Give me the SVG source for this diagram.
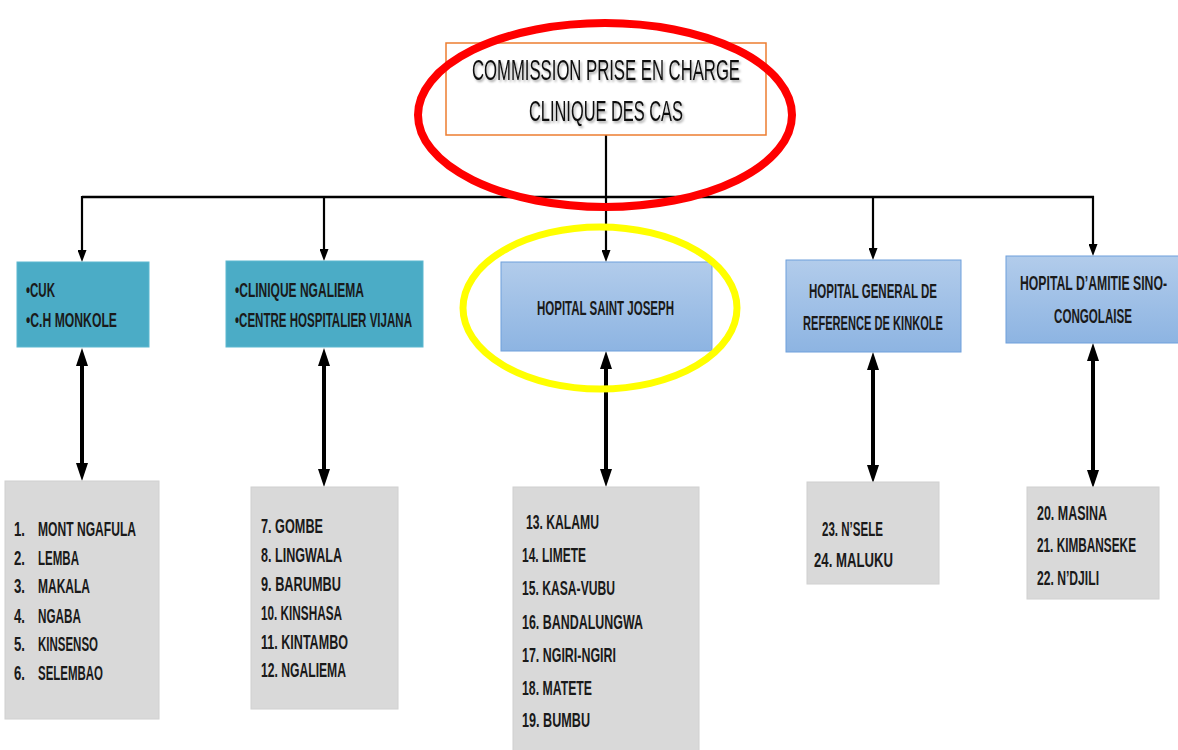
<svg xmlns="http://www.w3.org/2000/svg" width="1178" height="750" viewBox="0 0 1178 750">
<style>
.t{font-family:"Liberation Sans",Arial,sans-serif;font-weight:bold;fill:#1a1a1a;font-size:20px}
.top{font-family:"Liberation Sans",Arial,sans-serif;fill:#111;font-size:30px}
.thin{stroke:#000;stroke-width:2.2;fill:none}
.thick{stroke:#000;stroke-width:4;fill:none}
.teal{fill:#4BACC6;stroke:#5DB8D0;stroke-width:1}
.blue{fill:url(#bg);stroke:#6FA0DC;stroke-width:1}
.gray{fill:#D9D9D9;stroke:#D0D0D0;stroke-width:1}
</style>
<defs>
<linearGradient id="bg" x1="0" y1="0" x2="0" y2="1">
<stop offset="0" stop-color="#B2CCEB"/>
<stop offset="1" stop-color="#8DB4E2"/>
</linearGradient>
<filter id="sh" x="-5%" y="-20%" width="110%" height="150%">
<feDropShadow dx="1.5" dy="2" stdDeviation="1.2" flood-color="#000" flood-opacity="0.35"/>
</filter>
<marker id="ah" viewBox="0 0 12 9" refX="4" refY="4.5" markerWidth="12" markerHeight="9" markerUnits="userSpaceOnUse" orient="auto">
<path d="M0,0 L12,4.5 L0,9 z" fill="#000"/>
</marker>
<marker id="ahb" viewBox="0 0 18 12" refX="6" refY="6" markerWidth="18" markerHeight="12" markerUnits="userSpaceOnUse" orient="auto-start-reverse">
<path d="M0,0 L18,6 L0,12 z" fill="#000"/>
</marker>
</defs>
<rect width="1178" height="750" fill="#fff"/>

<g id="connectors">
<line class="thin" x1="606" y1="135" x2="606" y2="197"/>
<line x1="82" y1="197" x2="1094" y2="197" stroke="#000" stroke-width="2.6"/>
<line class="thin" x1="82" y1="196" x2="82" y2="254" marker-end="url(#ah)"/>
<line class="thin" x1="324" y1="196" x2="324" y2="253" marker-end="url(#ah)"/>
<line class="thin" x1="606" y1="196" x2="606" y2="254" marker-end="url(#ah)"/>
<line class="thin" x1="873" y1="196" x2="873" y2="252" marker-end="url(#ah)"/>
<line class="thin" x1="1093" y1="196" x2="1093" y2="248" marker-end="url(#ah)"/>
<line class="thick" x1="82" y1="360" x2="82" y2="469" marker-start="url(#ahb)" marker-end="url(#ahb)"/>
<line class="thick" x1="324" y1="360" x2="324" y2="475" marker-start="url(#ahb)" marker-end="url(#ahb)"/>
<line class="thick" x1="606" y1="363" x2="606" y2="475" marker-start="url(#ahb)" marker-end="url(#ahb)"/>
<line class="thick" x1="873" y1="364" x2="873" y2="471" marker-start="url(#ahb)" marker-end="url(#ahb)"/>
<line class="thick" x1="1093" y1="355" x2="1093" y2="476" marker-start="url(#ahb)" marker-end="url(#ahb)"/>
</g>

<g id="commission">
<rect x="446" y="43" width="320" height="92" fill="#fff" stroke="#ED7D31" stroke-width="1.5"/>
<g filter="url(#sh)">
<text class="top" x="472" y="80" textLength="268" lengthAdjust="spacingAndGlyphs">COMMISSION PRISE EN CHARGE</text>
<text class="top" x="529" y="121" textLength="154" lengthAdjust="spacingAndGlyphs">CLINIQUE DES CAS</text>
</g>
</g>

<g id="cuk">
<rect class="teal" x="17" y="262" width="132" height="85"/>
<text class="t" x="26" y="297" textLength="29" lengthAdjust="spacingAndGlyphs">•CUK</text>
<text class="t" x="26" y="327" textLength="91" lengthAdjust="spacingAndGlyphs">•C.H MONKOLE</text>
</g>

<g id="ngaliema">
<rect class="teal" x="226" y="261" width="197" height="86"/>
<text class="t" x="235" y="297" textLength="129" lengthAdjust="spacingAndGlyphs">•CLINIQUE NGALIEMA</text>
<text class="t" x="235" y="327" textLength="177" lengthAdjust="spacingAndGlyphs">•CENTRE HOSPITALIER VIJANA</text>
</g>

<g id="saint-joseph">
<rect class="blue" x="501" y="262" width="211" height="89"/>
<text class="t" x="537" y="315" textLength="137" lengthAdjust="spacingAndGlyphs">HOPITAL SAINT JOSEPH</text>
</g>

<g id="kinkole">
<rect class="blue" x="786" y="260" width="175" height="92"/>
<text class="t" x="809" y="298" textLength="128" lengthAdjust="spacingAndGlyphs">HOPITAL GENERAL DE</text>
<text class="t" x="803" y="330" textLength="140" lengthAdjust="spacingAndGlyphs">REFERENCE DE KINKOLE</text>
</g>

<g id="sino">
<rect class="blue" x="1006" y="256" width="174" height="87"/>
<text class="t" x="1020" y="290" textLength="147" lengthAdjust="spacingAndGlyphs">HOPITAL D’AMITIE SINO-</text>
<text class="t" x="1054" y="323" textLength="78" lengthAdjust="spacingAndGlyphs">CONGOLAISE</text>
</g>

<g id="list1">
<rect class="gray" x="5" y="481" width="154" height="238"/>
<text class="t" x="14" y="536" textLength="11" lengthAdjust="spacingAndGlyphs">1.</text>
<text class="t" x="38" y="536" textLength="98" lengthAdjust="spacingAndGlyphs">MONT NGAFULA</text>
<text class="t" x="14" y="565" textLength="11" lengthAdjust="spacingAndGlyphs">2.</text>
<text class="t" x="38" y="565" textLength="41" lengthAdjust="spacingAndGlyphs">LEMBA</text>
<text class="t" x="14" y="593" textLength="11" lengthAdjust="spacingAndGlyphs">3.</text>
<text class="t" x="38" y="593" textLength="52" lengthAdjust="spacingAndGlyphs">MAKALA</text>
<text class="t" x="14" y="623" textLength="11" lengthAdjust="spacingAndGlyphs">4.</text>
<text class="t" x="38" y="623" textLength="43" lengthAdjust="spacingAndGlyphs">NGABA</text>
<text class="t" x="14" y="651" textLength="11" lengthAdjust="spacingAndGlyphs">5.</text>
<text class="t" x="38" y="651" textLength="60" lengthAdjust="spacingAndGlyphs">KINSENSO</text>
<text class="t" x="14" y="680" textLength="11" lengthAdjust="spacingAndGlyphs">6.</text>
<text class="t" x="38" y="680" textLength="65" lengthAdjust="spacingAndGlyphs">SELEMBAO</text>
</g>

<g id="list2">
<rect class="gray" x="251" y="487" width="147" height="222"/>
<text class="t" x="261" y="533" textLength="62" lengthAdjust="spacingAndGlyphs">7. GOMBE</text>
<text class="t" x="261" y="562" textLength="81" lengthAdjust="spacingAndGlyphs">8. LINGWALA</text>
<text class="t" x="261" y="591" textLength="80" lengthAdjust="spacingAndGlyphs">9. BARUMBU</text>
<text class="t" x="261" y="620" textLength="81" lengthAdjust="spacingAndGlyphs">10. KINSHASA</text>
<text class="t" x="261" y="649" textLength="87" lengthAdjust="spacingAndGlyphs">11. KINTAMBO</text>
<text class="t" x="261" y="677" textLength="85" lengthAdjust="spacingAndGlyphs">12. NGALIEMA</text>
</g>

<g id="list3">
<rect class="gray" x="513" y="487" width="186" height="268"/>
<text class="t" x="526" y="529" textLength="73" lengthAdjust="spacingAndGlyphs">13. KALAMU</text>
<text class="t" x="522" y="562" textLength="64" lengthAdjust="spacingAndGlyphs">14. LIMETE</text>
<text class="t" x="522" y="595" textLength="93" lengthAdjust="spacingAndGlyphs">15. KASA-VUBU</text>
<text class="t" x="522" y="629" textLength="121" lengthAdjust="spacingAndGlyphs">16. BANDALUNGWA</text>
<text class="t" x="522" y="662" textLength="94" lengthAdjust="spacingAndGlyphs">17. NGIRI-NGIRI</text>
<text class="t" x="522" y="695" textLength="70" lengthAdjust="spacingAndGlyphs">18. MATETE</text>
<text class="t" x="522" y="727" textLength="68" lengthAdjust="spacingAndGlyphs">19. BUMBU</text>
</g>

<g id="list4">
<rect class="gray" x="807" y="482" width="132" height="102" stroke="#BDBDBD"/>
<text class="t" x="822" y="536" textLength="61" lengthAdjust="spacingAndGlyphs">23. N’SELE</text>
<text class="t" x="814" y="567" textLength="79" lengthAdjust="spacingAndGlyphs">24. MALUKU</text>
</g>

<g id="list5">
<rect class="gray" x="1027" y="487" width="132" height="112"/>
<text class="t" x="1037" y="520" textLength="70" lengthAdjust="spacingAndGlyphs">20. MASINA</text>
<text class="t" x="1037" y="552" textLength="99" lengthAdjust="spacingAndGlyphs">21. KIMBANSEKE</text>
<text class="t" x="1037" y="585" textLength="62" lengthAdjust="spacingAndGlyphs">22. N’DJILI</text>
</g>

<g id="highlights">
<ellipse cx="605" cy="115" rx="187" ry="92" fill="none" stroke="#FF0000" stroke-width="8"/>
<ellipse cx="600" cy="308" rx="137" ry="81" fill="none" stroke="#FFFF00" stroke-width="7"/>
</g>
</svg>
